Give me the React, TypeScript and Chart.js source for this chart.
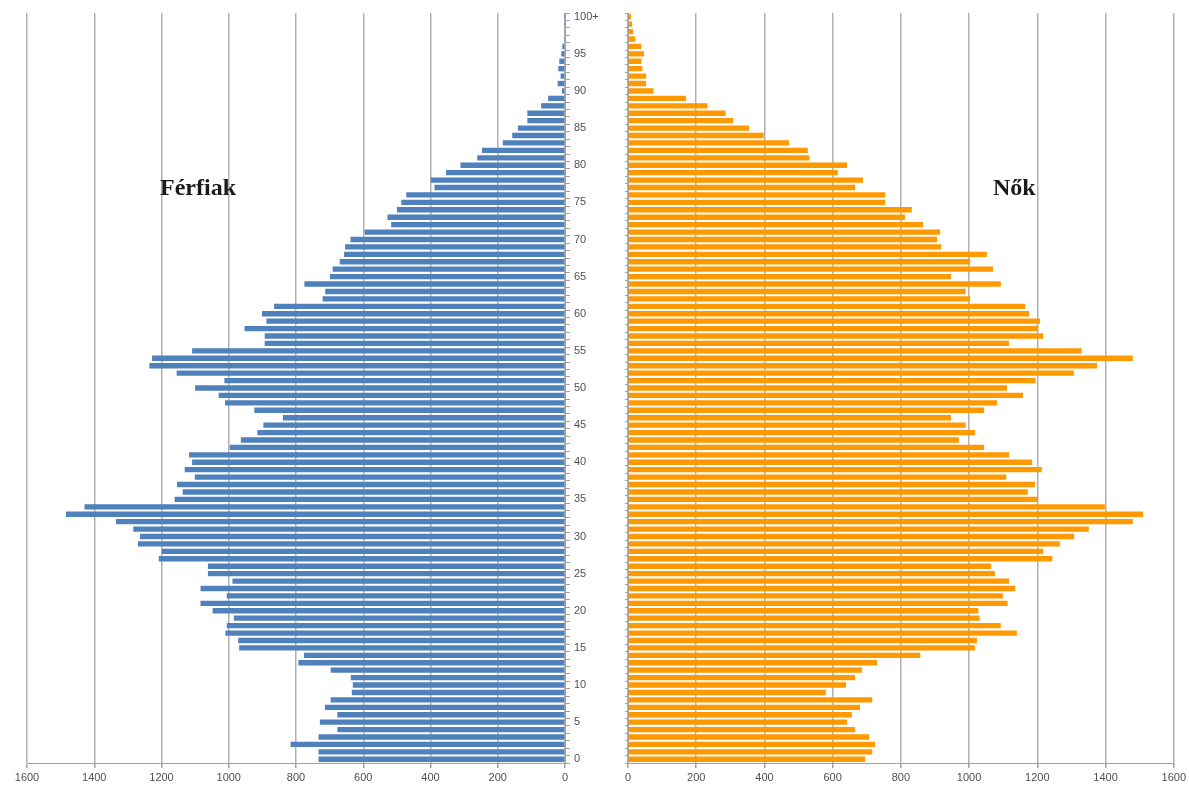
import React, { useEffect, useRef } from 'react';
import { Chart, registerables } from 'chart.js';

Chart.register(...registerables);

// Age categories 0..99 and "100+"
const ageLabels: string[] = [...Array.from({ length: 100 }, (_, i) => String(i)), '100+'];

// Males (Férfiak), ages 0 .. 100+
const maleValues: number[] = [
  733, 733, 816, 733, 677, 729, 677, 714, 697, 634,
  631, 637, 697, 793, 776, 969, 972, 1010, 1006, 985,
  1048, 1084, 1006, 1084, 989, 1062, 1062, 1208, 1199, 1270,
  1264, 1284, 1335, 1484, 1429, 1161, 1137, 1154, 1101, 1131,
  1109, 1118, 997, 964, 915, 897, 839, 924, 1011, 1030,
  1100, 1013, 1155, 1236, 1228, 1109, 893, 893, 953, 888,
  901, 865, 721, 713, 775, 699, 691, 670, 657, 654,
  638, 596, 517, 528, 500, 487, 472, 388, 399, 354,
  311, 261, 247, 185, 157, 140, 112, 112, 71, 50,
  9, 22, 13, 20, 17, 11, 8, 3, 2, 1,
  1,
];

// Females (Nők), ages 0 .. 100+
const femaleValues: number[] = [
  695, 716, 724, 707, 666, 642, 656, 680, 716, 580,
  639, 666, 686, 730, 857, 1017, 1023, 1140, 1093, 1031,
  1027, 1113, 1099, 1135, 1117, 1076, 1064, 1244, 1217, 1266,
  1308, 1351, 1480, 1510, 1398, 1202, 1172, 1193, 1109, 1213,
  1185, 1117, 1044, 970, 1017, 990, 947, 1044, 1082, 1158,
  1111, 1195, 1307, 1375, 1480, 1330, 1117, 1217, 1202, 1208,
  1176, 1164, 1003, 990, 1093, 947, 1070, 1003, 1052, 918,
  906, 915, 865, 812, 832, 754, 754, 666, 689, 615,
  642, 532, 527, 472, 398, 355, 308, 286, 233, 170,
  75, 53, 53, 42, 39, 47, 39, 21, 15, 12,
  9,
];

const axisMin = 0;
const axisMax = 1600;
const axisStep = 200;

const maleTitle = 'Férfiak';
const femaleTitle = 'Nők';

const tickFont = { family: 'Liberation Sans', size: 11 };
const tickColor = '#505050';
const gridColor = 'rgba(150,150,150,0.75)';
const axisColor = '#a0a0a0';

function buildOptions(side: 'left' | 'right'): any {
  const isLeft = side === 'left';
  return {
    indexAxis: 'y',
    animation: false,
    responsive: false,
    layout: {
      padding: isLeft
        ? { left: 27, top: 13, right: 0, bottom: 0 }
        : { left: 0, top: 13, right: 14, bottom: 0 },
    },
    plugins: {
      legend: { display: false },
      tooltip: { enabled: false },
      title: { display: false },
    },
    scales: {
      x: {
        type: 'linear',
        reverse: isLeft,
        min: axisMin,
        max: axisMax,
        z: 1,
        ticks: {
          stepSize: axisStep,
          font: tickFont,
          color: tickColor,
          padding: 3,
          maxRotation: 0,
          callback: (value: any) => String(value),
        },
        grid: {
          color: gridColor,
          lineWidth: 1.5,
          tickLength: 5,
          tickColor: axisColor,
        },
        border: { color: axisColor, width: 1 },
        afterFit: (s: any) => {
          s.height = 28;
        },
      },
      y: {
        type: 'category',
        position: isLeft ? 'right' : 'left',
        reverse: true,
        ticks: {
          display: isLeft,
          autoSkip: false,
          font: tickFont,
          color: tickColor,
          padding: 4,
          callback: (value: any) => {
            const i = Number(value);
            return i % 5 === 0 ? ageLabels[i] : '';
          },
        },
        grid: {
          drawOnChartArea: false,
          tickLength: isLeft ? 5 : 3,
          color: axisColor,
        },
        border: { color: axisColor, width: 1 },
        afterFit: (s: any) => {
          s.width = isLeft ? 50 : 13;
        },
      },
    },
  };
}

export default function App() {
  const leftRef = useRef<HTMLCanvasElement>(null);
  const rightRef = useRef<HTMLCanvasElement>(null);

  useEffect(() => {
    if (!leftRef.current || !rightRef.current) return;
    const left = new Chart(leftRef.current, {
      type: 'bar',
      data: {
        labels: ageLabels,
        datasets: [
          {
            label: maleTitle,
            data: maleValues,
            backgroundColor: '#4F81BD',
            barPercentage: 0.72,
            categoryPercentage: 1,
          },
        ],
      },
      options: buildOptions('left'),
    });
    const right = new Chart(rightRef.current, {
      type: 'bar',
      data: {
        labels: ageLabels,
        datasets: [
          {
            label: femaleTitle,
            data: femaleValues,
            backgroundColor: '#FF9900',
            barPercentage: 0.72,
            categoryPercentage: 1,
          },
        ],
      },
      options: buildOptions('right'),
    });
    return () => {
      left.destroy();
      right.destroy();
    };
  }, []);

  const titleStyle: React.CSSProperties = {
    position: 'absolute',
    fontFamily: '"Liberation Serif", "Times New Roman", serif',
    fontWeight: 'bold',
    fontSize: 24,
    lineHeight: '24px',
    color: '#1a1a1a',
    whiteSpace: 'nowrap',
  };

  return (
    <div
      style={{
        position: 'fixed',
        left: 0,
        top: 0,
        width: 1189,
        height: 791,
        background: '#ffffff',
        overflow: 'hidden',
      }}
    >
      <canvas
        ref={leftRef}
        width={615}
        height={791}
        style={{ position: 'absolute', left: 0, top: 0, width: 615, height: 791 }}
      />
      <canvas
        ref={rightRef}
        width={574}
        height={791}
        style={{ position: 'absolute', left: 615, top: 0, width: 574, height: 791 }}
      />
      <div style={{ ...titleStyle, left: 160, top: 175 }}>{maleTitle}</div>
      <div style={{ ...titleStyle, left: 993, top: 175 }}>{femaleTitle}</div>
    </div>
  );
}
